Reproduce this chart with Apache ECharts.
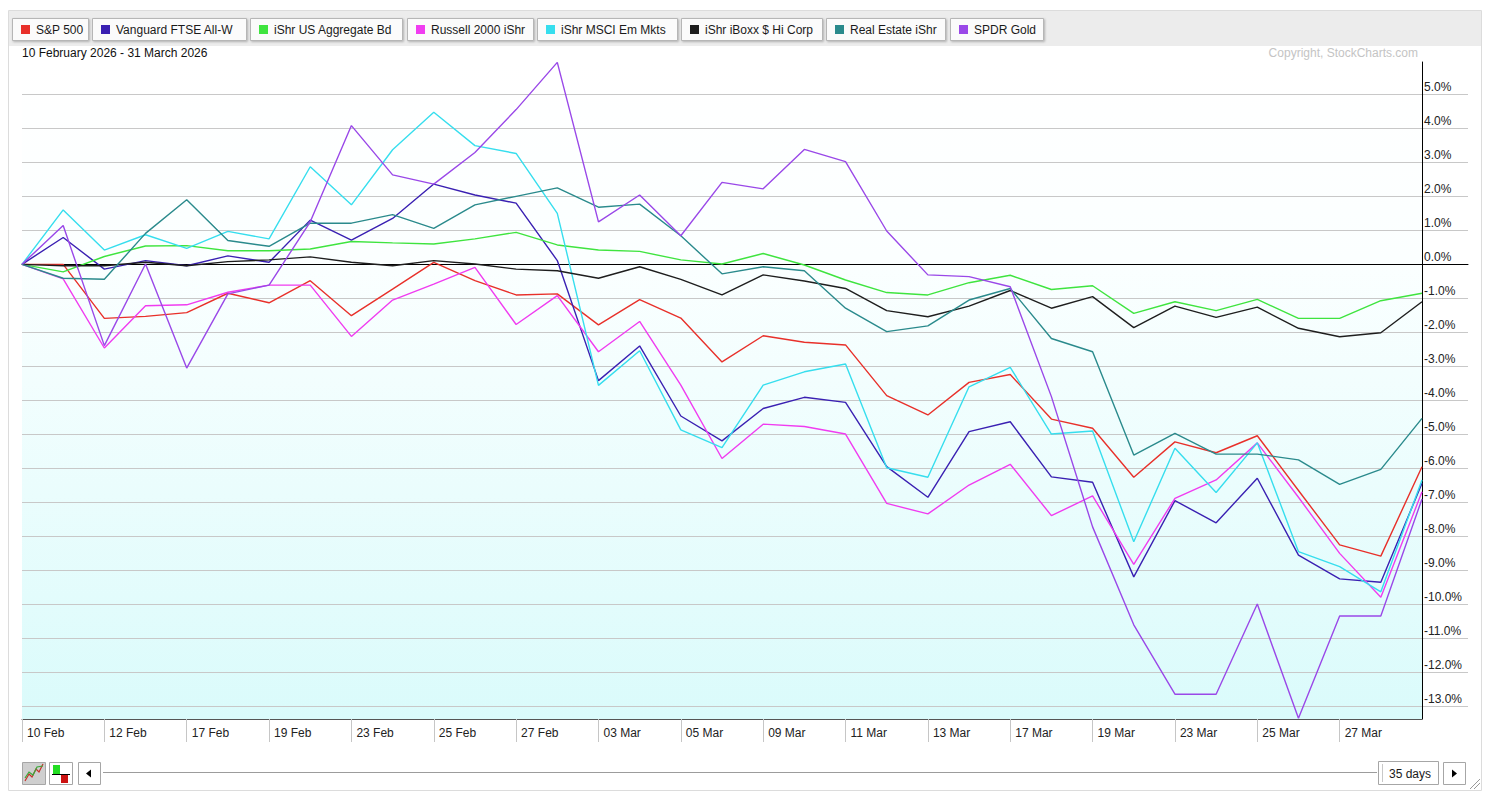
<!DOCTYPE html>
<html>
<head>
<meta charset="utf-8">
<title>PerfChart</title>
<script src="https://cdn.jsdelivr.net/npm/echarts@6/dist/echarts.min.js"></script>
<style>
html, body { margin: 0; padding: 0; background: #fff; }
#chart { width: 1493px; height: 804px; }
</style>
</head>
<body>
<div id="chart"></div>
<script>
// trading days shown on the chart
var dates = ['10 Feb', '11 Feb', '12 Feb', '13 Feb', '17 Feb', '18 Feb', '19 Feb', '20 Feb', '23 Feb', '24 Feb',
    '25 Feb', '26 Feb', '27 Feb', '02 Mar', '03 Mar', '04 Mar', '05 Mar', '06 Mar', '09 Mar', '10 Mar',
    '11 Mar', '12 Mar', '13 Mar', '16 Mar', '17 Mar', '18 Mar', '19 Mar', '20 Mar', '23 Mar', '24 Mar',
    '25 Mar', '26 Mar', '27 Mar', '30 Mar', '31 Mar'];

var seriesNames = ['S&P 500', 'Vanguard FTSE All-W', 'iShr US Aggregate Bd', 'Russell 2000 iShr',
    'iShr MSCI Em Mkts', 'iShr iBoxx $ Hi Corp', 'Real Estate iShr', 'SPDR Gold'];

// % change since 10 Feb
var sp500 = [0, 0.0, -1.59, -1.53, -1.42, -0.85, -1.13, -0.48, -1.51, -0.73, 0.06, -0.48, -0.90, -0.87, -1.78, -1.04, -1.58, -2.87,
    -2.10, -2.29, -2.37, -3.86, -4.43, -3.47, -3.24, -4.55, -4.82, -6.26, -5.22, -5.54, -5.04, -6.65, -8.25, -8.58, -5.95];
var vanguardAllWorld = [0, 0.79, -0.14, 0.11, -0.04, 0.25, 0.06, 1.30, 0.71, 1.35, 2.36, 2.04, 1.80, 0.11, -3.42, -2.40, -4.46, -5.19,
    -4.24, -3.91, -4.06, -5.95, -6.85, -4.92, -4.63, -6.25, -6.41, -9.19, -6.95, -7.60, -6.29, -8.55, -9.25, -9.35, -6.44];
var aggregateBond = [0, -0.22, 0.23, 0.54, 0.55, 0.40, 0.40, 0.45, 0.67, 0.63, 0.60, 0.75, 0.94, 0.57, 0.42, 0.38, 0.13, 0.01,
    0.32, -0.02, -0.46, -0.83, -0.90, -0.54, -0.32, -0.74, -0.63, -1.44, -1.10, -1.36, -1.03, -1.59, -1.59, -1.07, -0.85];
var russell2000 = [0, -0.43, -2.46, -1.22, -1.19, -0.82, -0.61, -0.61, -2.12, -1.05, -0.58, -0.09, -1.77, -0.92, -2.57, -1.68, -3.55, -5.71,
    -4.70, -4.77, -4.99, -7.03, -7.34, -6.49, -5.88, -7.39, -6.81, -8.82, -6.88, -6.34, -5.25, -6.85, -8.50, -9.79, -6.69];
var emergingMkts = [0, 1.60, 0.42, 0.87, 0.47, 0.97, 0.75, 2.87, 1.75, 3.37, 4.47, 3.49, 3.26, 1.50, -3.56, -2.54, -4.87, -5.39,
    -3.55, -3.16, -2.93, -5.98, -6.26, -3.60, -3.03, -4.99, -4.90, -8.16, -5.41, -6.71, -5.25, -8.45, -8.89, -9.63, -6.34];
var highYieldCorp = [0, -0.04, -0.04, 0.06, -0.04, 0.08, 0.13, 0.22, 0.06, -0.04, 0.11, 0.01, -0.14, -0.19, -0.41, -0.07, -0.44, -0.90,
    -0.31, -0.49, -0.71, -1.36, -1.54, -1.23, -0.77, -1.29, -0.95, -1.86, -1.23, -1.56, -1.26, -1.88, -2.13, -2.01, -1.10];
var realEstate = [0, -0.41, -0.44, 0.91, 1.90, 0.70, 0.53, 1.21, 1.21, 1.46, 1.06, 1.75, 2.00, 2.25, 1.68, 1.77, 0.84, -0.28,
    -0.07, -0.19, -1.29, -1.98, -1.81, -1.05, -0.71, -2.18, -2.57, -5.61, -4.97, -5.58, -5.58, -5.75, -6.47, -6.03, -4.53];
var gold = [0, 1.14, -2.39, 0.01, -3.05, -0.87, -0.61, 1.25, 4.08, 2.63, 2.36, 3.29, 4.55, 5.94, 1.25, 2.04, 0.84, 2.41,
    2.22, 3.38, 3.02, 0.98, -0.31, -0.36, -0.66, -3.89, -7.72, -10.60, -12.64, -12.64, -9.99, -13.35, -10.34, -10.34, -6.90];

var seriesValues = [sp500, vanguardAllWorld, aggregateBond, russell2000, emergingMkts, highYieldCorp, realEstate, gold];

// visible value range and tick range of the y axis
var yRange = [-13.37, 5.95];
var tickRange = [-14, 6];

var seriesColors = ['#e8302a', '#3a20b2', '#3fe43f', '#f03cf0', '#36deee', '#1e1e1e', '#2a8a8c', '#9a48e8'];
var FONT = '"Liberation Sans", Arial, sans-serif';

(function() {
    var chart = echarts.init(document.getElementById('chart'), null, { renderer: 'svg' });

    var btnX = [12, 92, 250, 407, 537, 681, 826, 950];
    var btnW = [76, 154, 152, 126, 140, 141, 119, 93];

    function showLabel(index) {
        return index % 2 === 0 && index < dates.length - 1;
    }

    var elements = [];
    // frame and toolbar
    elements.push({ type: 'rect', z: -20, shape: { x: 8.5, y: 10.5, width: 1473, height: 780 }, style: { fill: '#fff', stroke: '#dcdcdc' } });
    elements.push({ type: 'rect', z: -19, shape: { x: 9, y: 11, width: 1472, height: 35 }, style: { fill: '#ececec' } });
    // plot background
    elements.push({
        type: 'rect', z: -10,
        shape: { x: 22, y: 62, width: 1400, height: 657 },
        style: {
            fill: new echarts.graphic.LinearGradient(0, 0, 0, 1, [
                { offset: 0, color: '#ffffff' },
                { offset: 0.3, color: '#fbffff' },
                { offset: 1, color: '#dafbfb' }
            ])
        }
    });
    seriesNames.forEach(function(name, k) {
        elements.push({ type: 'rect', shape: { x: btnX[k] + 0.5, y: 18.5, width: btnW[k], height: 22 },
            style: { fill: '#fbfbfb', stroke: '#b6b6b6', lineWidth: 1, shadowBlur: 2, shadowOffsetX: 1, shadowOffsetY: 1, shadowColor: 'rgba(0,0,0,0.25)' } });
        elements.push({ type: 'rect', shape: { x: btnX[k] + 9, y: 25, width: 9, height: 9 }, style: { fill: seriesColors[k] } });
        elements.push({ type: 'text', x: btnX[k] + 24, y: 30,
            style: { text: name, font: '12px ' + FONT, fill: '#1a1a1a', textVerticalAlign: 'middle' } });
    });

    // bottom controls
    elements.push({ type: 'rect', shape: { x: 22.5, y: 762.5, width: 23, height: 22 }, style: { fill: '#cfcfcf', stroke: '#a6a6a6' } });
    elements.push({ type: 'polyline', shape: { points: [[25, 781], [29, 774], [32, 777], [36, 769], [39, 772], [43, 764]] }, style: { stroke: '#c8302a', fill: null, lineWidth: 1.2 } });
    elements.push({ type: 'polyline', shape: { points: [[25, 778], [29, 772], [33, 775], [37, 767], [43, 766]] }, style: { stroke: '#3aa83a', fill: null, lineWidth: 1.2 } });
    elements.push({ type: 'rect', shape: { x: 49.5, y: 762.5, width: 23, height: 22 }, style: { fill: '#fff', stroke: '#a6a6a6' } });
    elements.push({ type: 'rect', shape: { x: 53, y: 765, width: 7, height: 9 }, style: { fill: '#22dd22' } });
    elements.push({ type: 'rect', shape: { x: 61, y: 775, width: 7, height: 8 }, style: { fill: '#cc1111' } });
    elements.push({ type: 'line', shape: { x1: 52, y1: 774.5, x2: 70, y2: 774.5 }, style: { stroke: '#000' } });
    elements.push({ type: 'rect', shape: { x: 78.5, y: 762.5, width: 22, height: 22 }, style: { fill: '#fff', stroke: '#a6a6a6' } });
    elements.push({ type: 'polygon', shape: { points: [[86, 773.5], [91, 769.5], [91, 777.5]] }, style: { fill: '#000' } });
    elements.push({ type: 'line', shape: { x1: 103, y1: 772.5, x2: 1377, y2: 772.5 }, style: { stroke: '#9c9c9c' } });
    elements.push({ type: 'rect', shape: { x: 1378.5, y: 761.5, width: 60, height: 23 }, style: { fill: '#fff', stroke: '#a6a6a6' } });
    elements.push({ type: 'line', shape: { x1: 1382.5, y1: 764, x2: 1382.5, y2: 782 }, style: { stroke: '#c8c8c8' } });
    elements.push({ type: 'text', x: 1410, y: 773.5,
        style: { text: dates.length + ' days', font: '12px ' + FONT, fill: '#1a1a1a', textAlign: 'center', textVerticalAlign: 'middle' } });
    elements.push({ type: 'rect', shape: { x: 1443.5, y: 762.5, width: 22, height: 22 }, style: { fill: '#fff', stroke: '#a6a6a6' } });
    elements.push({ type: 'polygon', shape: { points: [[1452, 769.5], [1457, 773.5], [1452, 777.5]] }, style: { fill: '#000' } });
    elements.push({ type: 'polyline', shape: { points: [[1470, 789], [1480, 779]] }, style: { stroke: '#999', fill: null } });
    elements.push({ type: 'polyline', shape: { points: [[1474, 789], [1480, 783]] }, style: { stroke: '#999', fill: null } });

    var series = seriesNames.map(function(name, k) {
        return {
            name: name,
            type: 'line',
            xAxisIndex: 0,
            yAxisIndex: 0,
            data: seriesValues[k],
            symbol: 'none',
            silent: true,
            z: 3 + k,
            lineStyle: { color: seriesColors[k], width: 1.4 },
            itemStyle: { color: seriesColors[k] }
        };
    });

    var option = {
        animation: false,
        textStyle: { fontFamily: FONT },
        title: [{
            text: dates[0].replace('Feb', 'February') + ' 2026 - 31 March 2026',
            left: 22, top: 47, padding: 0,
            textStyle: { fontSize: 12, fontWeight: 'normal', color: '#111', fontFamily: FONT }
        }, {
            text: 'Copyright, StockCharts.com',
            right: 75, top: 47, padding: 0,
            textStyle: { fontSize: 12, fontWeight: 'normal', color: '#c4c4c4', fontFamily: FONT }
        }],
        graphic: { elements: elements },
        grid: [
            { left: 22, top: 62, width: 1400, height: 657, containLabel: false },
            { left: 22, top: 62 - (tickRange[1] - yRange[1]) * 657 / (yRange[1] - yRange[0]), width: 1446,
              height: (tickRange[1] - tickRange[0]) * 657 / (yRange[1] - yRange[0]), containLabel: false }
        ],
        xAxis: [{
            type: 'category',
            gridIndex: 0,
            data: dates,
            boundaryGap: false,
            axisLine: { show: true, onZero: false, lineStyle: { color: '#555', width: 1 } },
            axisTick: { show: true, interval: showLabel, length: 23, lineStyle: { color: '#c6c6c6' } },
            axisLabel: {
                interval: showLabel, align: 'left', margin: 8, padding: [0, 0, 0, 5],
                fontSize: 12, color: '#222', fontFamily: FONT
            },
            splitLine: { show: false }
        }, {
            type: 'value',
            gridIndex: 1,
            min: 0, max: 1,
            z: 1,
            axisLine: { show: true, onZero: true, lineStyle: { color: '#000', width: 1 } },
            axisTick: { show: false },
            axisLabel: { show: false },
            splitLine: { show: false }
        }],
        yAxis: [{
            type: 'value',
            gridIndex: 0,
            position: 'right',
            min: yRange[0], max: yRange[1],
            axisLine: { show: true, lineStyle: { color: '#000', width: 1 } },
            axisTick: { show: false },
            axisLabel: { show: false },
            splitLine: { show: false }
        }, {
            type: 'value',
            gridIndex: 1,
            position: 'right',
            min: tickRange[0], max: tickRange[1],
            interval: 1,
            axisLine: { show: false },
            axisTick: { show: false },
            splitLine: { show: true, showMinLine: false, showMaxLine: false, lineStyle: { color: '#c8c8c8', width: 1 } },
            axisLabel: {
                inside: true, align: 'left', verticalAlign: 'bottom', margin: 44, padding: [0, 0, 1, 0],
                showMinLabel: false, showMaxLabel: false,
                fontSize: 12, color: '#222', fontFamily: FONT,
                formatter: function(v) { return v.toFixed(1) + '%'; }
            }
        }],
        series: series
    };
    chart.setOption(option);
})();
</script>
</body>
</html>
